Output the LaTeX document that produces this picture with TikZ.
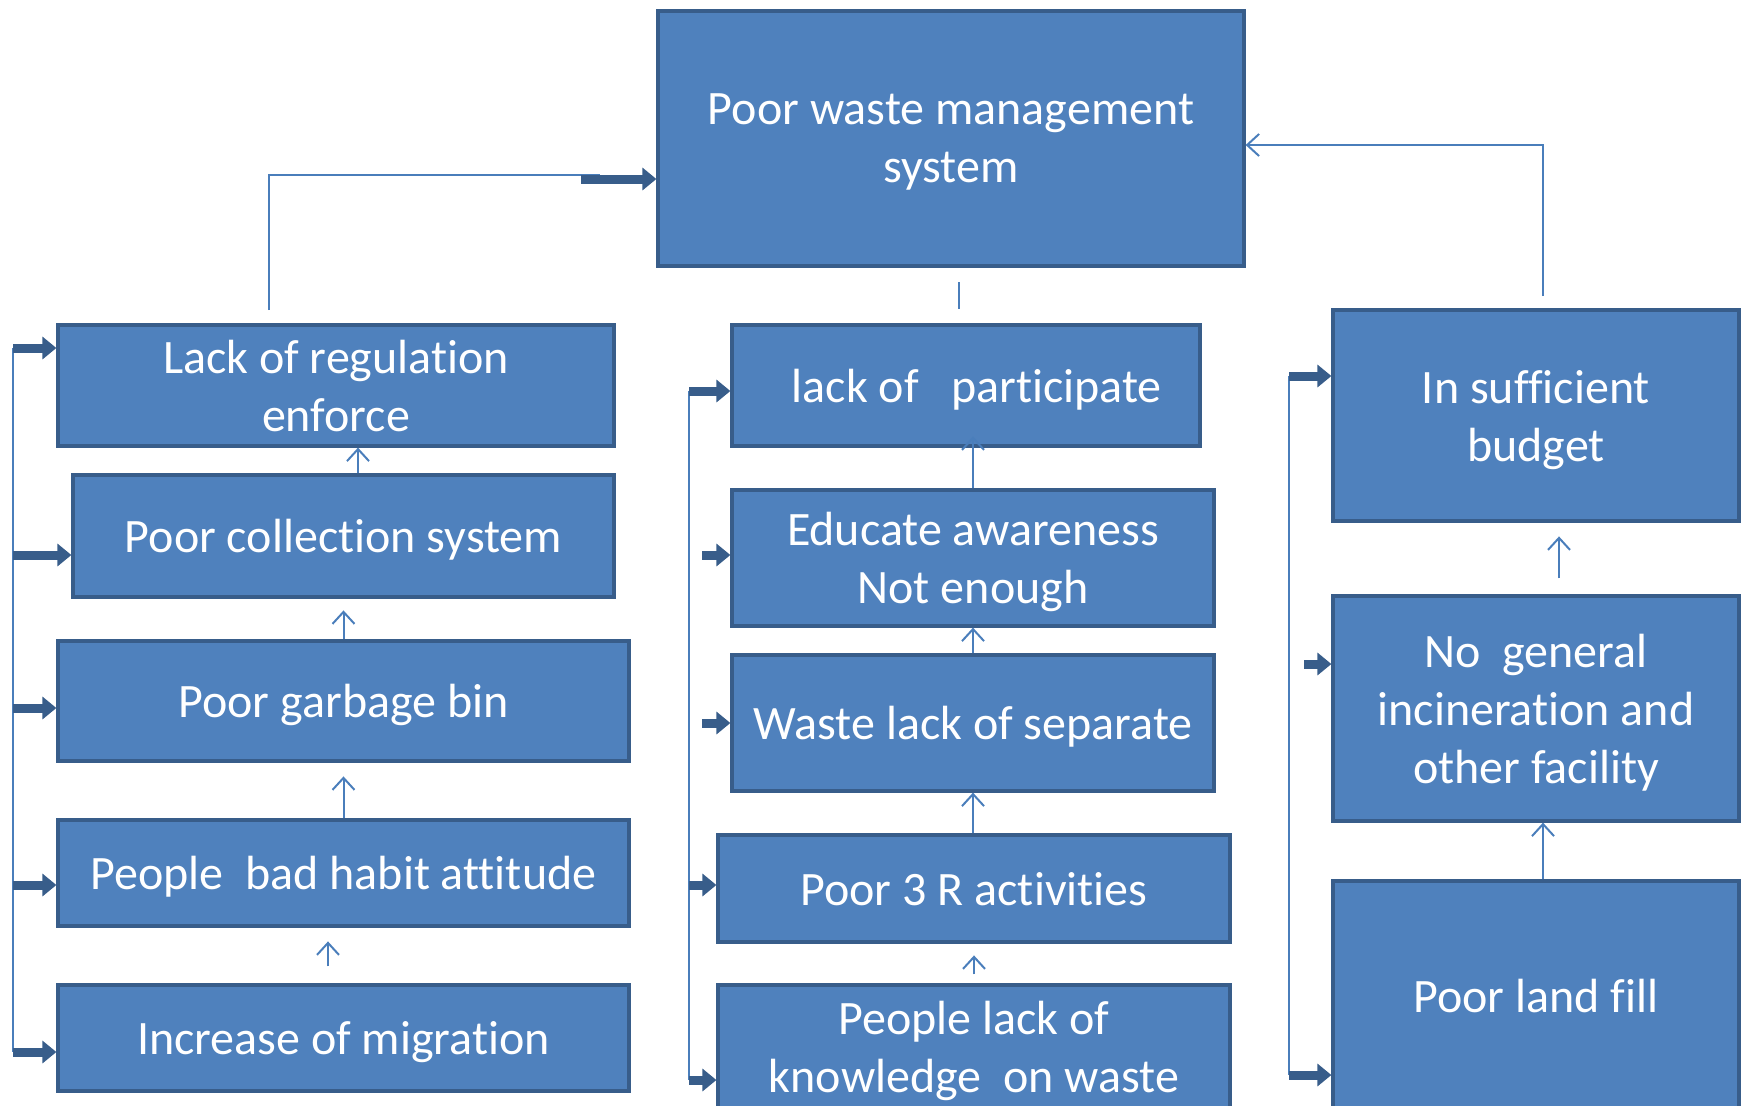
\documentclass[tikz,border=0pt]{standalone}
\usepackage{fontspec}
\setmainfont{Carlito}[Ligatures=NoCommon]
\usetikzlibrary{arrows.meta}
\definecolor{BoxFill}{HTML}{4F81BD}
\definecolor{BoxEdge}{HTML}{385D8A}
\definecolor{Link}{HTML}{4A7EBB}

\begin{document}
\begin{tikzpicture}[x=0.5pt,y=-0.5pt,
  cause/.style={draw=BoxEdge,fill=BoxFill,line width=1.6pt,text=white,align=center,
    inner sep=0pt,text depth=0pt,font=\fontsize{24}{29}\selectfont},
  link/.style={draw=Link,line width=1pt},
  up/.style={link,-{Straight Barb[length=6pt,width=11pt]}},
  feed/.style={draw=BoxEdge,line width=4.5pt,-{Triangle[length=7pt,width=11pt]}}]
  \useasboundingbox (0,0) rectangle (1750,1105);

  % main problem
  \node[cause,minimum width=293pt,minimum height=127.5pt] (core) at (951,138.5) {Poor waste management\\system};

  % left column
  \node[cause,minimum width=278pt,minimum height=60.5pt] (reg) at (336,385.5) {Lack of regulation\\enforce};
  \node[cause,minimum width=270.5pt,minimum height=61pt] (coll) at (343.5,536) {Poor collection system};
  \node[cause,minimum width=285.5pt,minimum height=60pt] (bin) at (343.5,701) {Poor garbage bin};
  \node[cause,minimum width=285.5pt,minimum height=53pt] (habit) at (343.5,873) {People\ \ bad habit attitude};
  \node[cause,minimum width=285.5pt,minimum height=53pt] (migr) at (343.5,1038) {Increase of migration};

  % middle column
  \node[cause,minimum width=234pt,minimum height=60.5pt] (part) at (966,385.5) {\ \ lack of\ \ \ participate};
  \node[cause,minimum width=241pt,minimum height=68pt] (edu) at (973,558) {Educate awareness\\Not enough};
  \node[cause,minimum width=241pt,minimum height=68pt] (sep) at (973,723) {Waste lack of separate};
  \node[cause,minimum width=256pt,minimum height=53.5pt] (three) at (974,888.5) {Poor 3 R activities};
  \node[cause,minimum width=256pt,minimum height=61.5pt] (know) at (974,1046.5) {People lack of\\knowledge\ \ on waste};

  % right column
  \node[cause,minimum width=203pt,minimum height=105.5pt] (budget) at (1536,415.5) {In sufficient\\budget};
  \node[cause,minimum width=203pt,minimum height=112.5pt] (incin) at (1536,708.5) {No\ \ general\\incineration and\\other facility};
  \node[cause,minimum width=203pt,minimum height=114.5pt] (fill) at (1536,995.5) {Poor land fill};

  % links to the main problem
  \coordinate (regtop) at (269,310);
  \coordinate (regturn) at (600,175);
  \coordinate (regfeed) at (581,179);
  \draw[link] (regtop) |- (regturn);
  \draw[feed] (regfeed) -- (regfeed -| core.west);
  \coordinate (midA) at (959,282);
  \coordinate (midB) at (959,309);
  \draw[link] (midA) -- (midB);
  \coordinate (budtop) at (1543,296);
  \coordinate (budturn) at (1543,145);
  \draw[up] (budtop) -- (budturn) -- (budturn -| core.east);

  % side buses
  \coordinate (lbusT) at (13,348);
  \coordinate (lbusB) at (13,1052);
  \draw[link] (lbusT) -- (lbusB);
  \coordinate (mbusT) at (689,391);
  \coordinate (mbusB) at (689,1080);
  \draw[link] (mbusT) -- (mbusB);
  \coordinate (rbusT) at (1289,376);
  \coordinate (rbusB) at (1289,1075);
  \draw[link] (rbusT) -- (rbusB);
  \foreach \x/\y/\n in {13/348/reg,13/555/coll,13/708/bin,13/885/habit,13/1052/migr,
      689/391/part,702/555/edu,702/723/sep,689/885/three,689/1080/know,
      1289/376/budget,1304/664/incin,1289/1075/fill}
  {
    \coordinate (tap) at (\x,\y);
    \draw[feed] (tap) -- (tap -| \n.west);
  }

  % upward links within columns
  \draw[up] ([xshift=7.25pt]coll.north) -- ([xshift=7.25pt]coll.north |- reg.south);
  \draw[up] (bin.north) -- ++(0,-29);
  \draw[up] (habit.north) -- ++(0,-42);
  \draw[up] ([xshift=-7.75pt,yshift=8.5pt]migr.north) -- ++(0,-25);
  \draw[up] (edu.north) -- ++(0,-52);
  \draw[up] (sep.north) -- (sep.north |- edu.south);
  \draw[up] (sep.south |- three.north) -- (sep.south);
  \draw[up] ([yshift=4.5pt]know.north) -- ++(0,-19);
  \draw[up] ([xshift=11.5pt,yshift=8pt]incin.north) -- ++(0,-42);
  \draw[up] ([xshift=3.5pt]fill.north) -- ([xshift=3.5pt]fill.north |- incin.south);
\end{tikzpicture}
\end{document}
